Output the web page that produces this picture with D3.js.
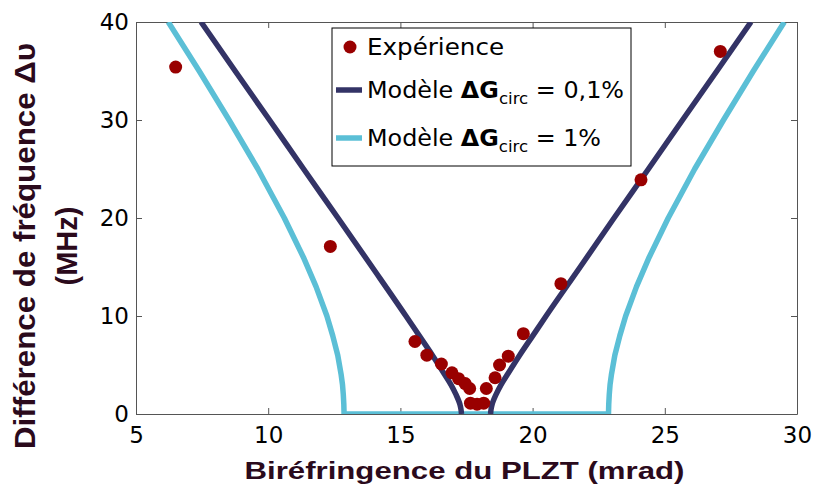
<!DOCTYPE html>
<html>
<head>
<meta charset="utf-8">
<script src="https://cdn.jsdelivr.net/npm/d3@7"></script>
<style>
  body { margin: 0; background: #fff; }
  .tick text { font-family: "DejaVu Sans", sans-serif; font-size: 23px; fill: #000; }
  .axis path, .axis line { stroke: #555; }
  .label { font-family: "Liberation Sans", Arial, sans-serif; font-weight: bold; fill: #2b0a1c; }
  .legend text { font-family: "DejaVu Sans", sans-serif; font-size: 23px; fill: #000; }
</style>
</head>
<body>
<script>
// Data
var expX = [6.5, 12.35, 15.55, 16.0, 16.55, 16.95, 17.2, 17.45, 17.62, 17.65, 17.9, 18.15, 18.25, 18.58, 18.75, 19.08, 19.65, 21.07, 24.1, 27.1];
var expY = [35.4, 17.1, 7.4, 6.0, 5.1, 4.2, 3.6, 3.1, 2.6, 1.1, 1.0, 1.1, 2.6, 3.7, 5.0, 5.9, 8.2, 13.3, 23.9, 37.0];

// Modèle ΔGcirc = 0,1%
var darkY = [40, 35, 30, 25, 20, 15, 10, 8, 6, 4, 3, 2, 1, 0.5, 0];
var darkLeftX = [7.46, 8.75, 10.05, 11.34, 12.64, 13.93, 15.21, 15.71, 16.21, 16.68, 16.91, 17.10, 17.25, 17.29, 17.31];
var darkRightX = [28.26, 26.97, 25.67, 24.38, 23.08, 21.80, 20.51, 20.01, 19.51, 19.04, 18.81, 18.62, 18.47, 18.43, 18.41];

// Modèle ΔGcirc = 1%
var lightY = [40, 35, 30, 25, 20, 16, 13, 10, 8, 6, 4, 3, 2, 1, 0];
var lightLeftX = [6.22, 7.39, 8.52, 9.61, 10.61, 11.33, 11.81, 12.22, 12.44, 12.63, 12.76, 12.81, 12.84, 12.86, 12.87];
var lightRightX = [29.52, 28.35, 27.22, 26.13, 25.13, 24.41, 23.93, 23.52, 23.30, 23.11, 22.98, 22.93, 22.90, 22.88, 22.87];

var xTicks = [5, 10, 15, 20, 25, 30];
var yTicks = [0, 10, 20, 30, 40];

var legendLabels = ['Expérience', '0,1%', '1%'];

var margin = {top: 22, right: 17, bottom: 78, left: 136};
var width = 814 - margin.left - margin.right;
var height = 492 - margin.top - margin.bottom;

var svg = d3.select('body')
  .append('svg')
  .attr('width', 814)
  .attr('height', 492)
.append('g')
  .attr('transform', 'translate(' + margin.left + ',' + margin.top + ')');

var xScale = d3.scaleLinear().domain([5, 30]).range([0, width]);
var yScale = d3.scaleLinear().domain([0, 40]).range([height, 0]);

svg.append('defs').append('clipPath')
  .attr('id', 'clip')
  .append('rect')
  .attr('width', width)
  .attr('height', height);

// axes (box with inward ticks)
svg.append('g')
  .attr('class', 'axis')
  .attr('transform', 'translate(0,' + height + ')')
  .call(d3.axisBottom(xScale).tickValues(xTicks).tickSizeInner(-6).tickSizeOuter(0).tickPadding(13));
svg.append('g')
  .attr('class', 'axis')
  .call(d3.axisTop(xScale).tickValues(xTicks).tickSizeInner(-6).tickSizeOuter(0).tickFormat(''));
svg.append('g')
  .attr('class', 'axis')
  .call(d3.axisLeft(yScale).tickValues(yTicks).tickSizeInner(-6).tickSizeOuter(0).tickPadding(7));
svg.append('g')
  .attr('class', 'axis')
  .attr('transform', 'translate(' + width + ',0)')
  .call(d3.axisRight(yScale).tickValues(yTicks).tickSizeInner(-6).tickSizeOuter(0).tickFormat(''));

var plot = svg.append('g').attr('clip-path', 'url(#clip)');

var line = d3.line()
  .x(function(d) { return xScale(d[0]); })
  .y(function(d) { return yScale(d[1]); });

var lightPts = lightLeftX.map(function(x, i) { return [x, lightY[i]]; })
  .concat(lightRightX.map(function(x, i) { return [x, lightY[i]]; }).reverse());

plot.append('path')
  .datum(lightPts)
  .attr('d', line)
  .attr('fill', 'none')
  .attr('stroke', '#5bbfd6')
  .attr('stroke-width', 5.5)
  .attr('stroke-linejoin', 'round');

[darkLeftX, darkRightX].forEach(function(xs) {
  plot.append('path')
    .datum(xs.map(function(x, i) { return [x, darkY[i]]; }))
    .attr('d', line.curve(d3.curveMonotoneY))
    .attr('fill', 'none')
    .attr('stroke', '#333366')
    .attr('stroke-width', 5.5)
    .attr('stroke-linejoin', 'round');
});

plot.selectAll('.pt')
  .data(expX)
  .enter().append('circle')
  .attr('class', 'pt')
  .attr('cx', function(d) { return xScale(d); })
  .attr('cy', function(d, i) { return yScale(expY[i]); })
  .attr('r', 6.5)
  .style('fill', '#990000');

// axis labels
svg.append('text')
  .attr('class', 'label')
  .attr('x', width / 2 - 2)
  .attr('y', 457)
  .attr('text-anchor', 'middle')
  .attr('font-size', 23)
  .attr('textLength', 440)
  .attr('lengthAdjust', 'spacingAndGlyphs')
  .text('Biréfringence du PLZT (mrad)');

var yl = svg.append('text')
  .attr('class', 'label')
  .attr('transform', 'translate(' + (35 - margin.left) + ',' + (246 - margin.top) + ') rotate(-90)')
  .attr('text-anchor', 'middle')
  .attr('font-size', 29);
yl.append('tspan').attr('x', 0).attr('y', 0)
  .attr('textLength', 406).attr('lengthAdjust', 'spacingAndGlyphs')
  .text('Différence de fréquence Δυ');
yl.append('tspan').attr('x', 0).attr('y', 42)
  .text('(MHz)');

// legend
var lg = svg.append('g')
  .attr('class', 'legend')
  .attr('transform', 'translate(' + (332 - margin.left) + ',' + (28 - margin.top) + ')');
lg.append('rect')
  .attr('width', 299)
  .attr('height', 138)
  .attr('fill', '#fff')
  .attr('stroke', '#000')
  .attr('stroke-width', 1);
lg.append('circle')
  .attr('cx', 18).attr('cy', 19).attr('r', 6.5)
  .style('fill', '#990000');
lg.append('text').attr('x', 35).attr('y', 27)
  .attr('textLength', 137).attr('lengthAdjust', 'spacingAndGlyphs')
  .text(legendLabels[0]);

[['#333366', 62, legendLabels[1], 257], ['#5bbfd6', 110, legendLabels[2], 234]].forEach(function(e) {
  lg.append('line')
    .attr('x1', 4).attr('x2', 30)
    .attr('y1', e[1]).attr('y2', e[1])
    .attr('stroke', e[0])
    .attr('stroke-width', 5.5);
  var t = lg.append('text').attr('x', 35).attr('y', e[1] + 8)
    .attr('textLength', e[3]).attr('lengthAdjust', 'spacingAndGlyphs');
  t.append('tspan').text('Modèle ');
  t.append('tspan').attr('font-weight', 'bold').text('ΔG');
  t.append('tspan').attr('font-size', 16).attr('dy', 6).text('circ');
  t.append('tspan').attr('dy', -6).text(' = ' + e[2]);
});
</script>
</body>
</html>
